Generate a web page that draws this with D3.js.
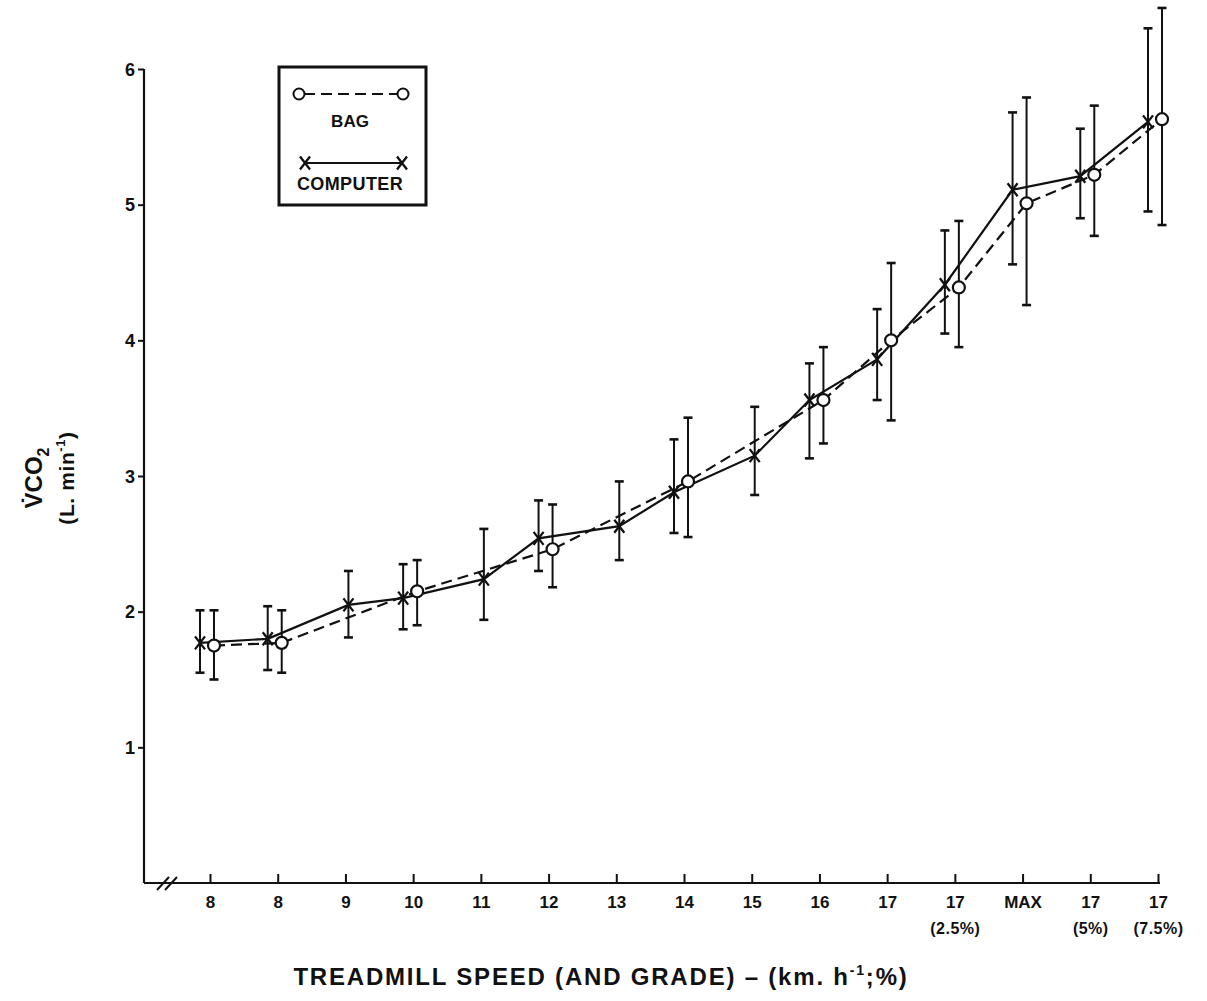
<!DOCTYPE html>
<html>
<head>
<meta charset="utf-8">
<script src="https://cdn.jsdelivr.net/npm/d3@7"></script>
<style>
  html, body { margin: 0; padding: 0; background: #fff; }
  svg { display: block; }
  text { font-family: "Liberation Sans", Arial, sans-serif; fill: #111; }
</style>
</head>
<body>
<svg id="chart" width="1207" height="1001"></svg>
<script>
// Treadmill stages (speed, and grade where applied)
const categories = ["8", "8", "9", "10", "11", "12", "13", "14", "15", "16", "17", "17", "MAX", "17", "17"];
const gradeLabels = ["", "", "", "", "", "", "", "", "", "", "", "(2.5%)", "", "(5%)", "(7.5%)"];

// VCO2 (L/min) measured by the on-line computer system: mean and ± range
const computerMean = [1.77, 1.80, 2.05, 2.10, 2.24, 2.54, 2.63, 2.88, 3.15, 3.56, 3.86, 4.41, 5.11, 5.21, 5.61];
const computerHigh = [2.01, 2.04, 2.30, 2.35, 2.61, 2.82, 2.96, 3.27, 3.51, 3.83, 4.23, 4.81, 5.68, 5.56, 6.30];
const computerLow  = [1.55, 1.57, 1.81, 1.87, 1.94, 2.30, 2.38, 2.58, 2.86, 3.13, 3.56, 4.05, 4.56, 4.90, 4.95];

// VCO2 (L/min) from Douglas bag collections (not sampled at every stage)
const bagMean = [1.75, 1.77, null, 2.15, null, 2.46, null, 2.96, null, 3.56, 4.00, 4.39, 5.01, 5.22, 5.63];
const bagHigh = [2.01, 2.01, null, 2.38, null, 2.79, null, 3.43, null, 3.95, 4.57, 4.88, 5.79, 5.73, 6.45];
const bagLow  = [1.50, 1.55, null, 1.90, null, 2.18, null, 2.55, null, 3.24, 3.41, 3.95, 4.26, 4.77, 4.85];

const yTicks = [1, 2, 3, 4, 5, 6];

const svg = d3.select("#chart");

const axisLeft = 144, axisBottom = 883, axisRight = 1160;

const x = d3.scalePoint()
  .domain(d3.range(categories.length))
  .range([210, 1158]);

const y = d3.scaleLinear()
  .domain([0, 6])
  .range([axisBottom, 69]);

// Side-by-side offsets when both methods are plotted at a stage
const bothPresent = i => bagMean[i] != null;
const cx = i => x(i) + (bothPresent(i) ? -10 : 3);
const bx = i => x(i) + 4;

const ink = "#111";
const FONT = "'Liberation Sans', Arial, sans-serif";

// ---------- axes ----------
const yAxis = d3.axisLeft(y).tickValues(yTicks).tickSize(6).tickPadding(3).tickFormat(d3.format("d"));
const gy = svg.append("g").attr("transform", `translate(${axisLeft},0)`).call(yAxis);
gy.select(".domain").attr("d", `M0,${y(6)}V${axisBottom}`).attr("stroke", ink).attr("stroke-width", 2.2);
gy.selectAll(".tick line").attr("stroke", ink).attr("stroke-width", 2);
gy.selectAll(".tick text")
  .style("font-family", FONT)
  .style("font-size", "18px").style("font-weight", "bold").attr("fill", ink)
  .attr("dy", "0.34em");

const xAxis = d3.axisBottom(x).tickSize(-9).tickPadding(13).tickFormat(i => categories[i]);
const gx = svg.append("g").attr("transform", `translate(0,${axisBottom})`).call(xAxis);
gx.select(".domain").attr("d", `M${axisLeft},0H${axisRight}`).attr("stroke", ink).attr("stroke-width", 2.2);
gx.selectAll(".tick line").attr("stroke", ink).attr("stroke-width", 2);
gx.selectAll(".tick text")
  .style("font-family", FONT)
  .style("font-size", "17px").style("font-weight", "bold").attr("fill", ink)
  .attr("dy", "0.71em");
gx.selectAll(".tick").append("text")
  .text(i => gradeLabels[i])
  .attr("y", 40).attr("dy", "0.71em").attr("text-anchor", "middle")
  .style("font-family", FONT)
  .style("font-size", "16px").style("font-weight", "bold").style("letter-spacing", "0.5px").attr("fill", ink);

// axis break marks
const brk = svg.append("g").attr("stroke", ink).attr("stroke-width", 2);
[162, 170].forEach(bxp => {
  brk.append("line").attr("x1", bxp - 5).attr("y1", axisBottom + 7).attr("x2", bxp + 7).attr("y2", axisBottom - 6);
});

// ---------- axis titles ----------
svg.append("text")
  .attr("x", 601).attr("y", 985).attr("text-anchor", "middle")
  .style("font-size", "24px").style("font-weight", "bold").style("letter-spacing", "1.8px")
  .html('TREADMILL SPEED (AND GRADE) – (km. h<tspan dy="-10" font-size="14">-1</tspan><tspan dy="10">;%)</tspan>');

const ylab = svg.append("g").attr("transform", "translate(0,478) rotate(-90)");
ylab.append("text")
  .attr("x", 0).attr("y", 42).attr("text-anchor", "middle")
  .style("font-size", "24px").style("font-weight", "bold")
  .html('V\u0307CO<tspan dy="7" font-size="16">2</tspan>');
ylab.append("text")
  .attr("x", 0).attr("y", 74).attr("text-anchor", "middle")
  .style("font-size", "21px").style("font-weight", "bold").style("letter-spacing", "0.6px")
  .html('(L. min<tspan dy="-9" font-size="13">-1</tspan><tspan dy="9">)</tspan>');

// ---------- series lines ----------
const compIdx = d3.range(categories.length);
const bagIdx = compIdx.filter(i => bagMean[i] != null);

svg.append("path")
  .datum(compIdx)
  .attr("d", d3.line().x(cx).y(i => y(computerMean[i])))
  .attr("fill", "none").attr("stroke", ink).attr("stroke-width", 2.2);

svg.append("path")
  .datum(bagIdx)
  .attr("d", d3.line().x(bx).y(i => y(bagMean[i])))
  .attr("fill", "none").attr("stroke", ink).attr("stroke-width", 2.2)
  .attr("stroke-dasharray", "11,6");

// ---------- error bars ----------
function errorBars(idx, px, lo, hi) {
  const g = svg.append("g").attr("stroke", ink).attr("stroke-width", 2);
  idx.forEach(i => {
    const xx = px(i);
    g.append("line").attr("x1", xx).attr("x2", xx).attr("y1", y(lo[i])).attr("y2", y(hi[i]));
    g.append("line").attr("x1", xx - 4.5).attr("x2", xx + 4.5).attr("y1", y(lo[i])).attr("y2", y(lo[i])).attr("stroke-width", 2.6);
    g.append("line").attr("x1", xx - 4.5).attr("x2", xx + 4.5).attr("y1", y(hi[i])).attr("y2", y(hi[i])).attr("stroke-width", 2.6);
  });
}
errorBars(compIdx, cx, computerLow, computerHigh);
errorBars(bagIdx, bx, bagLow, bagHigh);

// ---------- markers ----------
function xMark(g, xx, yy) {
  g.append("path")
    .attr("d", `M${xx - 5},${yy - 6.5}L${xx + 5},${yy + 6.5}M${xx + 5},${yy - 6.5}L${xx - 5},${yy + 6.5}`)
    .attr("stroke", ink).attr("stroke-width", 2.3).attr("fill", "none");
}
const markers = svg.append("g");
compIdx.forEach(i => xMark(markers, cx(i), y(computerMean[i])));
bagIdx.forEach(i => {
  markers.append("circle").attr("cx", bx(i)).attr("cy", y(bagMean[i])).attr("r", 6)
    .attr("fill", "#fff").attr("stroke", ink).attr("stroke-width", 2.2);
});

// ---------- legend ----------
const lg = svg.append("g");
lg.append("rect").attr("x", 279).attr("y", 67).attr("width", 147).attr("height", 138)
  .attr("fill", "none").attr("stroke", ink).attr("stroke-width", 3);
lg.append("line").attr("x1", 298).attr("x2", 404).attr("y1", 94).attr("y2", 94)
  .attr("stroke", ink).attr("stroke-width", 2).attr("stroke-dasharray", "11,6").attr("stroke-dashoffset", -6);
[299, 403].forEach(px => lg.append("circle").attr("cx", px).attr("cy", 94).attr("r", 5.5)
  .attr("fill", "#fff").attr("stroke", ink).attr("stroke-width", 2));
lg.append("text").attr("x", 350).attr("y", 127).attr("text-anchor", "middle")
  .style("font-size", "17px").style("font-weight", "bold").text("BAG");
lg.append("line").attr("x1", 305).attr("x2", 402).attr("y1", 163).attr("y2", 163)
  .attr("stroke", ink).attr("stroke-width", 1.8);
[305, 402].forEach(px => xMark(lg, px, 163));
lg.append("text").attr("x", 350).attr("y", 190).attr("text-anchor", "middle")
  .style("font-size", "18px").style("font-weight", "bold").style("letter-spacing", "0.4px").text("COMPUTER");
</script>
</body>
</html>
